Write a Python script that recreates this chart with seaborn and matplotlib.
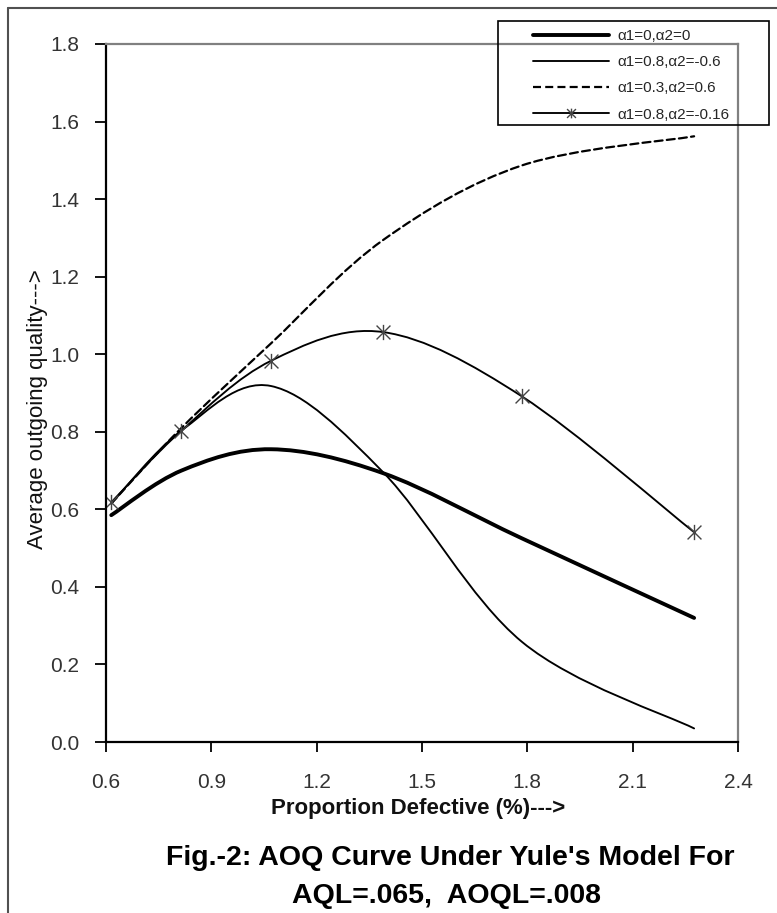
import numpy as np
import matplotlib
matplotlib.use("Agg")
import matplotlib.pyplot as plt
import seaborn as sns
from matplotlib.path import Path
from matplotlib.patches import PathPatch, Rectangle
from matplotlib.lines import Line2D
from matplotlib.markers import MarkerStyle

# values
p_defective = [0.615, 0.815, 1.07, 1.39, 1.785, 2.275]
aoq_a0_a0 = [0.585, 0.700, 0.755, 0.693, 0.525, 0.320]
aoq_a08_am06 = [0.615, 0.803, 0.918, 0.695, 0.258, 0.035]
aoq_a03_a06 = [0.615, 0.810, 1.028, 1.295, 1.487, 1.562]
aoq_a08_am016 = [0.618, 0.803, 0.983, 1.057, 0.891, 0.541]
series_labels = ["\u03b11=0,\u03b12=0", "\u03b11=0.8,\u03b12=-0.6",
                 "\u03b11=0.3,\u03b12=0.6", "\u03b11=0.8,\u03b12=-0.16"]
x_ticks = [0.6, 0.9, 1.2, 1.5, 1.8, 2.1, 2.4]
y_ticks = [0.0, 0.2, 0.4, 0.6, 0.8, 1.0, 1.2, 1.4, 1.6, 1.8]

sns.set_theme(style="white")
plt.rcParams["font.family"] = ["Liberation Sans", "DejaVu Sans"]

W, H = 777, 913


def smooth_path(xs, ys):
    # excel-like smoothed line: cubic bezier through the points
    pts = np.column_stack([xs, ys])
    ext = np.vstack([pts[0], pts, pts[-1]])
    verts = [pts[0]]
    codes = [Path.MOVETO]
    for i in range(len(pts) - 1):
        p0, p1, p2, p3 = ext[i], ext[i + 1], ext[i + 2], ext[i + 3]
        verts += [p1 + (p2 - p0) / 6, p2 - (p3 - p1) / 6, p2]
        codes += [Path.CURVE4] * 3
    return Path(verts, codes)


star = MarkerStyle(Path([(-1, -1), (1, 1), (-1, 1), (1, -1), (0, -1.1), (0, 1.1)],
                        [Path.MOVETO, Path.LINETO, Path.MOVETO, Path.LINETO,
                         Path.MOVETO, Path.LINETO]))

fig = plt.figure(figsize=(W / 100, H / 100), dpi=100)
ax = fig.add_axes([106 / W, 1 - 742 / H, 632 / W, 698 / H])

styles = [
    (aoq_a0_a0, dict(lw=2.8, ls="-")),
    (aoq_a08_am06, dict(lw=1.35, ls="-")),
    (aoq_a03_a06, dict(lw=1.6, ls=(0, (3.6, 1.9)))),
    (aoq_a08_am016, dict(lw=1.35, ls="-")),
]
for ys, st in styles:
    ax.add_patch(PathPatch(smooth_path(p_defective, ys), fill=False,
                           edgecolor="black", capstyle="round", **st))

sns.lineplot(x=p_defective, y=aoq_a08_am016, ax=ax, linestyle="none",
             marker=star, markersize=11, mec="#444444", mfc="none", mew=1.0)

ax.set_xlim(0.6, 2.4)
ax.set_ylim(0, 1.8)
ax.set_xticks(x_ticks)
ax.set_xticklabels([f"{v:.1f}" for v in x_ticks])
ax.set_yticks(y_ticks)
ax.set_yticklabels([f"{v:.1f}" for v in y_ticks])
ax.tick_params(axis="both", direction="out", width=1.3, color="black",
               labelsize=15, labelcolor="#333333", bottom=True, left=True)
ax.tick_params(axis="x", pad=15, length=7)
ax.tick_params(axis="y", pad=11, length=8)
for side in ["left", "bottom"]:
    ax.spines[side].set_color("black")
    ax.spines[side].set_linewidth(1.6)
for side in ["top", "right"]:
    ax.spines[side].set_color("#808080")
    ax.spines[side].set_linewidth(1.6)
ax.set_xlabel("")
ax.set_ylabel("")

fig.text(38 / W, 1 - 409 / H, "Average outgoing quality--->", rotation=90,
         ha="center", va="center", fontsize=16, color="#111111")
fig.text(418 / W, 1 - 808 / H, "Proportion Defective (%)--->", ha="center",
         va="center", fontsize=16, fontweight="bold", color="#111111")
fig.text(450 / W, 1 - 858 / H, "Fig.-2: AOQ Curve Under Yule's Model For",
         ha="center", va="center", fontsize=20.5, fontweight="bold", color="black")
fig.text(446 / W, 1 - 896 / H, "AQL=.065,  AOQL=.008",
         ha="center", va="center", fontsize=20.5, fontweight="bold", color="black")

# outer chart frame
fig.add_artist(Line2D([8 / W, 8 / W], [0, 1 - 8 / H], color="#505050", lw=1.5))
fig.add_artist(Line2D([8 / W, 1], [1 - 8 / H, 1 - 8 / H], color="#505050", lw=1.5))

# legend box
fig.add_artist(Rectangle((498 / W, 1 - 125 / H), 271 / W, 104 / H, fill=False,
                         edgecolor="black", lw=1.2, transform=fig.transFigure))
handles = [Line2D([], [], color="black", lw=st["lw"], ls=st["ls"]) for _, st in styles]
handles[3] = Line2D([], [], color="black", lw=1.35, marker=star, markersize=7,
                    mec="#444444", mfc="none", mew=1.0)
fig.legend(handles, series_labels, loc="upper left",
           bbox_to_anchor=(530 / W, 1 - 26 / H), frameon=False,
           fontsize=11, handlelength=5.0, handletextpad=0.5,
           labelspacing=0.8, borderpad=0.2, borderaxespad=0)

fig.savefig("out.png", dpi=100)
